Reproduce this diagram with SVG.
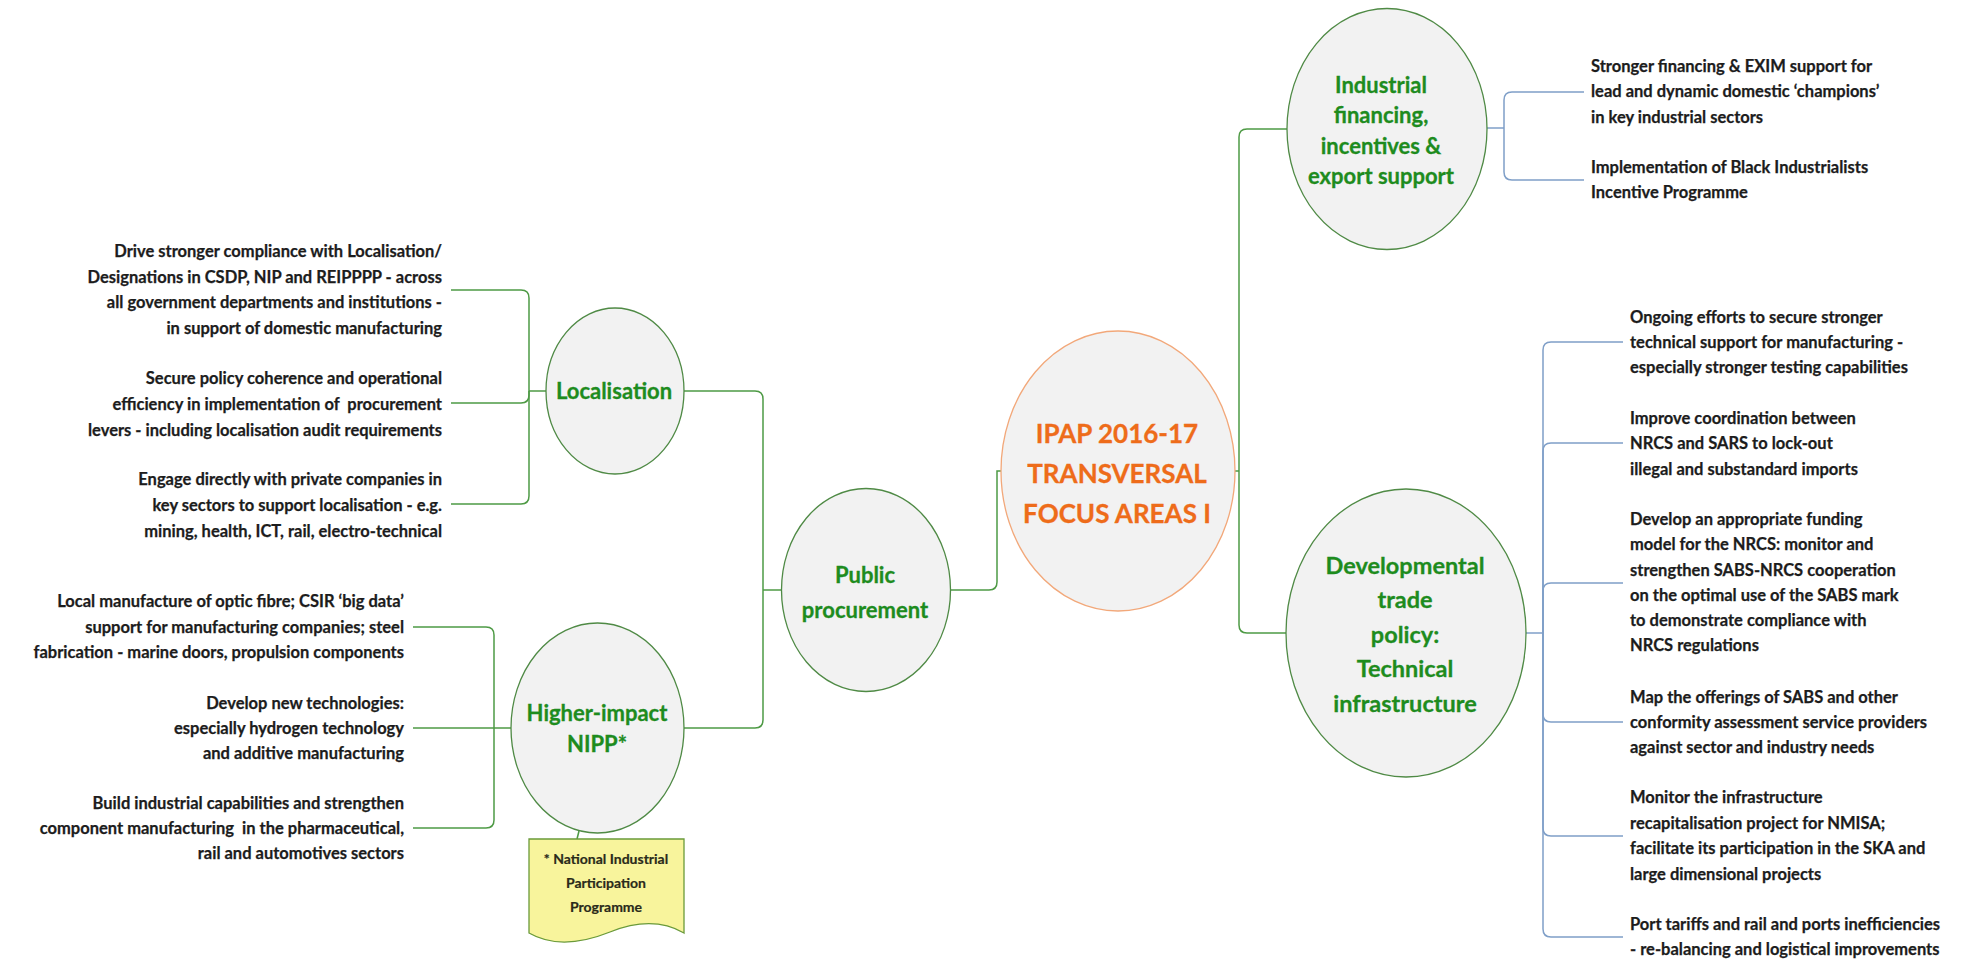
<svg xmlns="http://www.w3.org/2000/svg" width="1984" height="960" viewBox="0 0 1984 960">
  <style>
    .node { fill: #F2F2F2; stroke: #4F8A45; stroke-width: 1.3; }
    .core { fill: #F2F2F2; stroke: #F2A87A; stroke-width: 1.3; }
    .lbl { font-family: Lato, "Liberation Sans", sans-serif; font-weight: bold; font-size: 22px; fill: #1E8C1E; stroke: #1E8C1E; stroke-width: 0.3; text-anchor: middle; }
    .big { font-size: 23.5px; }
    .corelbl { font-family: Lato, "Liberation Sans", sans-serif; font-weight: bold; font-size: 26px; fill: #EE6C1A; stroke: #EE6C1A; stroke-width: 0.3; text-anchor: middle; }
    .txt { font-family: Lato, "Liberation Sans", sans-serif; font-weight: bold; font-size: 16.5px; fill: #1C1C1C; stroke: #1C1C1C; stroke-width: 0.25; }
    .end { text-anchor: end; }
    .note { font-family: Lato, "Liberation Sans", sans-serif; font-weight: bold; font-size: 14px; fill: #2A2A1A; stroke: #2A2A1A; stroke-width: 0.2; text-anchor: middle; }
    .cg { fill: none; stroke: #4E9A45; stroke-width: 1.5; }
    .cb { fill: none; stroke: #7F9FC8; stroke-width: 1.5; }
  </style>

  <rect width="1984" height="960" fill="#FFFFFF"/>

  <!-- connectors -->
  <g id="connectors">
    <!-- centre to left branch -->
    <path class="cg" d="M1002,471 H997 V582 Q997,590 989,590 H951"/>
    <path class="cg" d="M782,590 H763"/>
    <path class="cg" d="M763,590 V399 Q763,391 755,391 H684"/>
    <path class="cg" d="M763,590 V720 Q763,728 755,728 H684"/>
    <!-- Localisation items -->
    <path class="cg" d="M546,391 H529"/>
    <path class="cg" d="M529,391 V298 Q529,290 521,290 H451"/>
    <path class="cg" d="M529,391 V395 Q529,403 521,403 H451"/>
    <path class="cg" d="M529,391 V496 Q529,504 521,504 H451"/>
    <!-- NIPP items -->
    <path class="cg" d="M511,728 H413"/>
    <path class="cg" d="M494,728 V635 Q494,627 486,627 H413"/>
    <path class="cg" d="M494,728 V820 Q494,828 486,828 H413"/>
    <path class="cg" d="M579,831 L577,839"/>
    <!-- centre to right branch -->
    <path class="cg" d="M1235,471 H1239"/>
    <path class="cg" d="M1239,471 V137 Q1239,129 1247,129 H1287"/>
    <path class="cg" d="M1239,471 V625 Q1239,633 1247,633 H1287"/>
    <!-- Industrial financing items -->
    <path class="cb" d="M1487,128 H1504"/>
    <path class="cb" d="M1504,128 V100 Q1504,92 1512,92 H1584"/>
    <path class="cb" d="M1504,128 V172 Q1504,180 1512,180 H1584"/>
    <!-- Technical infrastructure items -->
    <path class="cb" d="M1526,633 H1543"/>
    <path class="cb" d="M1543,633 V350 Q1543,342 1551,342 H1623"/>
    <path class="cb" d="M1543,633 V451 Q1543,443 1551,443 H1623"/>
    <path class="cb" d="M1543,633 V591 Q1543,583 1551,583 H1623"/>
    <path class="cb" d="M1543,633 V714 Q1543,722 1551,722 H1623"/>
    <path class="cb" d="M1543,633 V828 Q1543,836 1551,836 H1623"/>
    <path class="cb" d="M1543,633 V929 Q1543,937 1551,937 H1623"/>
  </g>

  <!-- central topic -->
  <g id="ipap">
    <ellipse class="core" cx="1118" cy="471" rx="117" ry="140"/>
    <text class="corelbl" x="1117" y="443">IPAP 2016-17</text>
    <text class="corelbl" x="1117" y="483">TRANSVERSAL</text>
    <text class="corelbl" x="1117" y="523">FOCUS AREAS I</text>
  </g>

  <g id="public-procurement">
    <ellipse class="node" cx="866" cy="590" rx="84.5" ry="101.5"/>
    <text class="lbl" x="865" y="583">Public</text>
    <text class="lbl" x="865" y="618">procurement</text>
  </g>

  <g id="localisation">
    <ellipse class="node" cx="615" cy="391" rx="69" ry="83"/>
    <text class="lbl" x="614" y="399">Localisation</text>
  </g>

  <g id="localisation-items">
    <text class="txt end" x="442" y="257">Drive stronger compliance with Localisation/</text>
    <text class="txt end" x="442" y="283">Designations in CSDP, NIP and REIPPPP - across</text>
    <text class="txt end" x="442" y="308">all government departments and institutions -</text>
    <text class="txt end" x="442" y="334">in support of domestic manufacturing</text>
    <text class="txt end" x="442" y="384">Secure policy coherence and operational</text>
    <text class="txt end" x="442" y="410" xml:space="preserve">efficiency in implementation of  procurement</text>
    <text class="txt end" x="442" y="436">levers - including localisation audit requirements</text>
    <text class="txt end" x="442" y="485">Engage directly with private companies in</text>
    <text class="txt end" x="442" y="511">key sectors to support localisation - e.g.</text>
    <text class="txt end" x="442" y="537">mining, health, ICT, rail, electro-technical</text>
  </g>

  <g id="nipp">
    <ellipse class="node" cx="597.5" cy="728" rx="86.5" ry="105"/>
    <text class="lbl" x="597" y="721">Higher-impact</text>
    <text class="lbl" x="597" y="752">NIPP*</text>
  </g>

  <g id="nipp-items">
    <text class="txt end" x="404" y="607">Local manufacture of optic fibre; CSIR ‘big data’</text>
    <text class="txt end" x="404" y="633">support for manufacturing companies; steel</text>
    <text class="txt end" x="404" y="658">fabrication - marine doors, propulsion components</text>
    <text class="txt end" x="404" y="709">Develop new technologies:</text>
    <text class="txt end" x="404" y="734">especially hydrogen technology</text>
    <text class="txt end" x="404" y="759">and additive manufacturing</text>
    <text class="txt end" x="404" y="809">Build industrial capabilities and strengthen</text>
    <text class="txt end" x="404" y="834" xml:space="preserve">component manufacturing  in the pharmaceutical,</text>
    <text class="txt end" x="404" y="859">rail and automotives sectors</text>
  </g>

  <g id="nipp-note">
    <path d="M529,839 H684 V933 C665,922 640,920 610,932 C585,942 555,948 529,933 Z" fill="#F8F49C" stroke="#6A9A3A" stroke-width="1.3"/>
    <text class="note" x="606" y="864">* National Industrial</text>
    <text class="note" x="606" y="888">Participation</text>
    <text class="note" x="606" y="912">Programme</text>
  </g>

  <g id="industrial-financing">
    <ellipse class="node" cx="1387" cy="129" rx="100" ry="120.5"/>
    <text class="lbl" x="1381" y="93">Industrial</text>
    <text class="lbl" x="1381" y="123">financing,</text>
    <text class="lbl" x="1381" y="154">incentives &amp;</text>
    <text class="lbl" x="1381" y="184">export support</text>
  </g>

  <g id="industrial-financing-items">
    <text class="txt" x="1591" y="72">Stronger financing &amp; EXIM support for</text>
    <text class="txt" x="1591" y="97">lead and dynamic domestic ‘champions’</text>
    <text class="txt" x="1591" y="123">in key industrial sectors</text>
    <text class="txt" x="1591" y="173">Implementation of Black Industrialists</text>
    <text class="txt" x="1591" y="198">Incentive Programme</text>
  </g>

  <g id="technical-infrastructure">
    <ellipse class="node" cx="1406" cy="633" rx="120" ry="144"/>
    <text class="lbl big" x="1405" y="574">Developmental</text>
    <text class="lbl big" x="1405" y="608">trade</text>
    <text class="lbl big" x="1405" y="643">policy:</text>
    <text class="lbl big" x="1405" y="677">Technical</text>
    <text class="lbl big" x="1405" y="712">infrastructure</text>
  </g>

  <g id="technical-infrastructure-items">
    <text class="txt" x="1630" y="323">Ongoing efforts to secure stronger</text>
    <text class="txt" x="1630" y="348">technical support for manufacturing -</text>
    <text class="txt" x="1630" y="373">especially stronger testing capabilities</text>
    <text class="txt" x="1630" y="424">Improve coordination between</text>
    <text class="txt" x="1630" y="449">NRCS and SARS to lock-out</text>
    <text class="txt" x="1630" y="475">illegal and substandard imports</text>
    <text class="txt" x="1630" y="525">Develop an appropriate funding</text>
    <text class="txt" x="1630" y="550">model for the NRCS: monitor and</text>
    <text class="txt" x="1630" y="576">strengthen SABS-NRCS cooperation</text>
    <text class="txt" x="1630" y="601">on the optimal use of the SABS mark</text>
    <text class="txt" x="1630" y="626">to demonstrate compliance with</text>
    <text class="txt" x="1630" y="651">NRCS regulations</text>
    <text class="txt" x="1630" y="703">Map the offerings of SABS and other</text>
    <text class="txt" x="1630" y="728">conformity assessment service providers</text>
    <text class="txt" x="1630" y="753">against sector and industry needs</text>
    <text class="txt" x="1630" y="803">Monitor the infrastructure</text>
    <text class="txt" x="1630" y="829">recapitalisation project for NMISA;</text>
    <text class="txt" x="1630" y="854">facilitate its participation in the SKA and</text>
    <text class="txt" x="1630" y="880">large dimensional projects</text>
    <text class="txt" x="1630" y="930">Port tariffs and rail and ports inefficiencies</text>
    <text class="txt" x="1630" y="955">- re-balancing and logistical improvements</text>
  </g>
</svg>
